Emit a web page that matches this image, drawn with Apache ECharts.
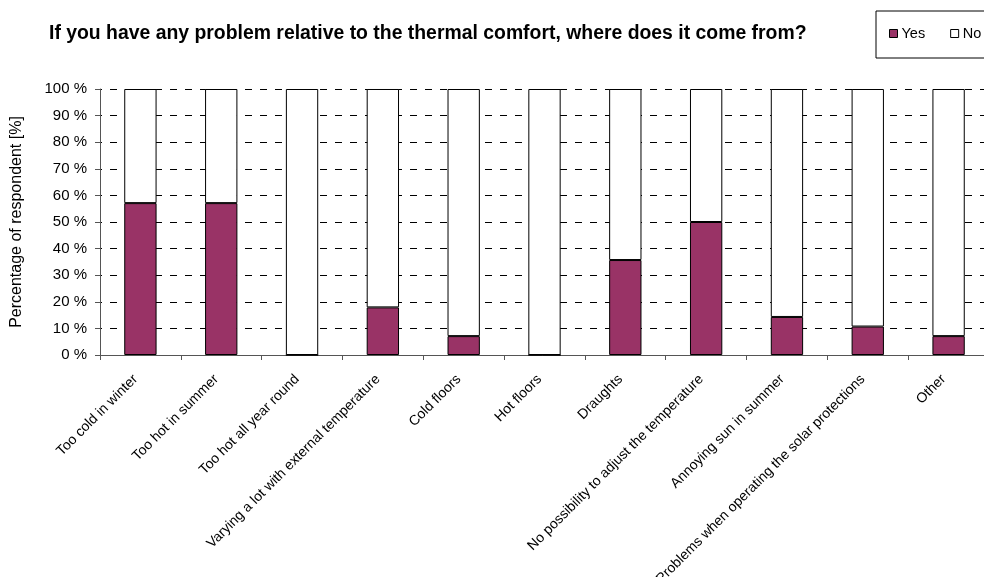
<!DOCTYPE html>
<html>
<head>
<meta charset="utf-8">
<script src="https://cdn.jsdelivr.net/npm/echarts@6/dist/echarts.min.js"></script>
<style>
  html, body { margin: 0; padding: 0; background: #fff; }
  #chart { width: 984px; height: 577px; }
</style>
</head>
<body>
<div id="chart"></div>
<script>
// Survey answers: share of respondents per thermal-comfort problem
const categories = [
  'Too cold in winter',
  'Too hot in summer',
  'Too hot all year round',
  'Varying a lot with external temperature',
  'Cold floors',
  'Hot floors',
  'Draughts',
  'No possibility to adjust the temperature',
  'Annoying sun in summer',
  'Problems when operating the solar protections',
  'Other'
];
const yesValues = [57.1, 57.1, 0, 17.9, 7.1, 0, 35.7, 50.0, 14.3, 10.7, 7.1];
const noValues  = [42.9, 42.9, 100, 82.1, 92.9, 100, 64.3, 50.0, 85.7, 89.3, 92.9];
const yTicks = { min: 0, max: 100, step: 10 };

const FONT = '"Liberation Sans", Arial, sans-serif';

const chart = echarts.init(document.getElementById('chart'), null, { renderer: 'canvas' });

chart.setOption({
  animation: false,
  backgroundColor: '#ffffff',
  textStyle: { fontFamily: FONT, color: '#000' },
  title: {
    text: 'If you have any problem relative to the thermal comfort, where does it come from?',
    left: 44,
    top: 19,
    textStyle: { fontFamily: FONT, fontSize: 19.4, fontWeight: 'bold', color: '#000' }
  },
  legend: {
    left: 876,
    top: 11,
    width: 300,
    orient: 'horizontal',
    icon: 'rect',
    itemWidth: 8,
    itemHeight: 8,
    itemGap: 25,
    borderColor: '#000',
    borderWidth: 1,
    padding: [15, 40, 17, 13],
    textStyle: { fontFamily: FONT, fontSize: 14.5, color: '#000', padding: [0, 0, 0, -1] },
    data: [
      { name: 'Yes', itemStyle: { color: '#993366', borderColor: '#000', borderWidth: 1 } },
      { name: 'No', itemStyle: { color: '#ffffff', borderColor: '#000', borderWidth: 1 } }
    ]
  },
  grid: {
    left: 100,
    top: 89,
    width: 889,
    height: 266,
    containLabel: false,
    outerBoundsMode: 'none'
  },
  xAxis: {
    type: 'category',
    data: categories,
    axisLine: { show: true, lineStyle: { color: '#555', width: 1 } },
    axisTick: { show: true, alignWithLabel: false, length: 5, lineStyle: { color: '#555' } },
    axisLabel: {
      interval: 0,
      rotate: 45,
      margin: 27,
      verticalAlign: 'bottom',
      fontFamily: FONT,
      fontSize: 14,
      color: '#000'
    }
  },
  yAxis: {
    type: 'value',
    min: yTicks.min,
    max: yTicks.max,
    interval: yTicks.step,
    name: 'Percentage of respondent [%]',
    nameLocation: 'middle',
    nameRotate: 90,
    nameGap: 75,
    nameTextStyle: { fontFamily: FONT, fontSize: 16, color: '#000' },
    axisLine: { show: true, lineStyle: { color: '#555', width: 1 } },
    axisTick: { show: true, length: 5, lineStyle: { color: '#555' } },
    axisLabel: {
      formatter: '{value} %',
      margin: 13,
      fontFamily: FONT,
      fontSize: 15,
      color: '#000'
    },
    splitLine: {
      show: true,
      lineStyle: { color: '#000', width: 1, type: [7, 8], dashOffset: -10 }
    }
  },
  series: [
    {
      name: 'Yes',
      type: 'bar',
      stack: 'answers',
      barWidth: '40%',
      data: yesValues,
      itemStyle: { color: '#993366', borderColor: '#000', borderWidth: 1 }
    },
    {
      name: 'No',
      type: 'bar',
      stack: 'answers',
      barWidth: '40%',
      data: noValues,
      itemStyle: { color: '#ffffff', borderColor: '#000', borderWidth: 1 }
    }
  ]
});
</script>
</body>
</html>
